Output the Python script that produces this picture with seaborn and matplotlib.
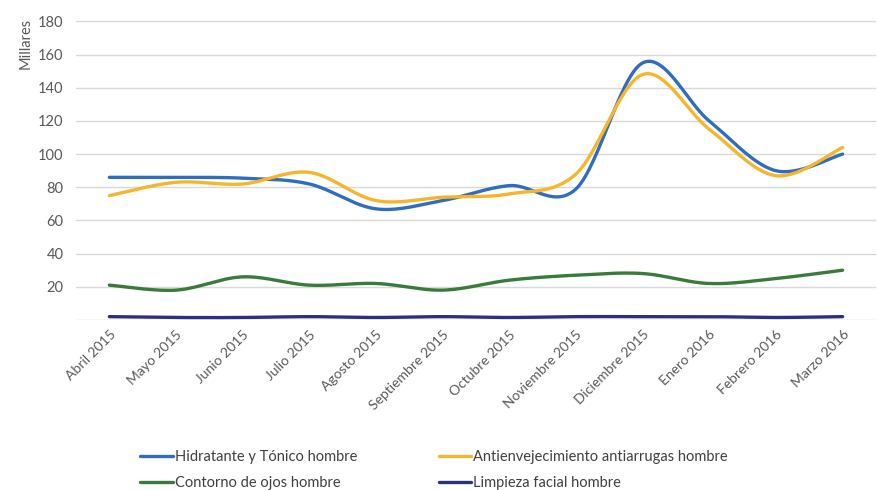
import numpy as np
import pandas as pd
import matplotlib
matplotlib.use("Agg")
import matplotlib.pyplot as plt
import seaborn as sns

months = ["Abril 2015", "Mayo 2015", "Junio 2015", "Julio 2015", "Agosto 2015",
          "Septiembre 2015", "Octubre 2015", "Noviembre 2015", "Diciembre 2015",
          "Enero 2016", "Febrero 2016", "Marzo 2016"]
series_names = ["Hidratante y Tónico hombre", "Antienvejecimiento antiarrugas hombre",
                "Contorno de ojos hombre", "Limpieza facial hombre"]
hidratante = [86, 86, 85.5, 82, 67, 72, 81, 79, 155, 120, 90, 100]
antienvejecimiento = [75, 83, 82, 89, 72, 74, 76, 88, 148, 115, 87, 104]
contorno = [21, 18, 26, 21, 22, 18, 24, 27, 28, 22, 25, 30]
limpieza = [2, 1.5, 1.5, 2, 1.5, 2, 1.5, 2, 2, 2, 1.5, 2]
colors = ["#2E6DBF", "#F6B52B", "#3A7A3A", "#2E2F80"]
yticks = [20, 40, 60, 80, 100, 120, 140, 160, 180]

sns.set_theme(style="white")
plt.rcParams['font.family'] = ['Lato', 'DejaVu Sans']


def catmull_rom(y, n=30):
    y = np.asarray(y, dtype=float)
    x = np.arange(len(y), dtype=float)
    P = np.concatenate([[y[0]], y, [y[-1]]])
    X = np.concatenate([[x[0]], x, [x[-1]]])
    xs, ys = [], []
    for i in range(1, len(P) - 2):
        t = np.linspace(0, 1, n, endpoint=False)
        p0, p1, p2, p3 = P[i - 1], P[i], P[i + 1], P[i + 2]
        q0, q1, q2, q3 = X[i - 1], X[i], X[i + 1], X[i + 2]
        c1y = p1 + (p2 - p0) / 6.0
        c2y = p2 - (p3 - p1) / 6.0
        c1x = q1 + (q2 - q0) / 6.0
        c2x = q2 - (q3 - q1) / 6.0
        b = lambda a, b_, c, d: ((1 - t) ** 3 * a + 3 * (1 - t) ** 2 * t * b_
                                 + 3 * (1 - t) * t ** 2 * c + t ** 3 * d)
        xs.append(b(q1, c1x, c2x, q2))
        ys.append(b(p1, c1y, c2y, p2))
    xs.append([x[-1]])
    ys.append([y[-1]])
    return np.concatenate(xs), np.concatenate(ys)


frames = []
for name, vals in zip(series_names, [hidratante, antienvejecimiento, contorno, limpieza]):
    sx, sy = catmull_rom(vals)
    frames.append(pd.DataFrame({"x": sx, "y": sy, "serie": name}))
df = pd.concat(frames, ignore_index=True)

fig = plt.figure(figsize=(8.78, 4.90), dpi=100)
ax = fig.add_axes([0.0866, 0.347, 0.911, 0.616])

for v in [0] + yticks:
    ax.axhline(v, color="#D9D9D9", lw=1.0, zorder=0)

sns.lineplot(data=df, x="x", y="y", hue="serie", palette=colors, hue_order=series_names,
             sort=False, estimator=None, units="serie", linewidth=2.4, ax=ax, legend=True)

ax.set_xlim(-0.5, 11.5)
ax.set_ylim(0, 182)
ax.set_yticks(yticks)
ax.set_yticklabels([str(v) for v in yticks], fontsize=10.5, color="#595959")
ax.set_xticks(range(len(months)))
ax.set_xticklabels(months, rotation=45, ha="right", rotation_mode="anchor",
                   fontsize=10, color="#595959")
ax.tick_params(axis="both", length=0, pad=6)
ax.tick_params(axis="y", pad=9)
ax.set_xlabel("")
ax.set_ylabel("Millares", loc="top", fontsize=10.5, color="#595959", labelpad=4)
for s in ax.spines.values():
    s.set_visible(False)

handles, labels = ax.get_legend_handles_labels()
ax.get_legend().remove()
order = [0, 2, 1, 3]
leg = fig.legend([handles[i] for i in order], [labels[i] for i in order], ncol=2,
                 loc="center left", bbox_to_anchor=(0.145, 0.041),
                 frameon=False, fontsize=10.5, handlelength=2.2, handletextpad=0.15,
                 columnspacing=5.6, labelspacing=0.85)
for t in leg.get_texts():
    t.set_color("#404040")

fig.savefig("out.png", dpi=100)
